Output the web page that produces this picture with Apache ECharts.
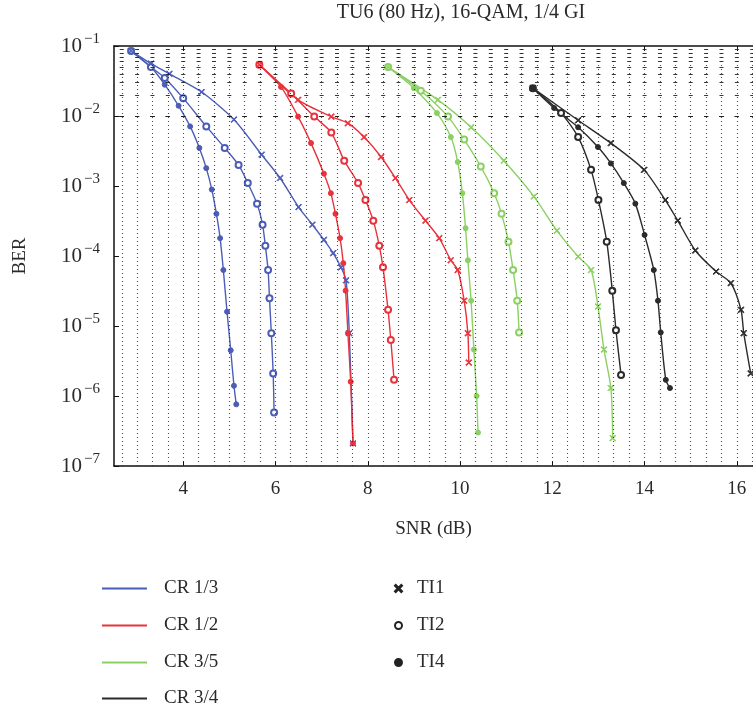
<!DOCTYPE html>
<html>
<head>
<meta charset="utf-8">
<script src="https://cdn.jsdelivr.net/npm/echarts@6/dist/echarts.min.js"></script>
<style>
  html, body { margin: 0; padding: 0; background: #fff; }
  #chart { width: 753px; height: 709px; }
</style>
</head>
<body>
<div id="chart"></div>
<script>
// SNR (dB) vs BER curves, TU6 channel, 16-QAM, 1/4 guard interval
const xTicks = [4, 6, 8, 10, 12, 14, 16];
const titleText = 'TU6 (80 Hz), 16-QAM, 1/4 GI';
const codeRates = ['CR 1/3', 'CR 1/2', 'CR 3/5', 'CR 3/4'];
const interleavers = ['TI1', 'TI2', 'TI4'];

// [SNR dB, BER]
const cr13_ti4 = [[2.87,8.5e-2],[3.3,5.0e-2],[3.6,2.8e-2],[3.9,1.4e-2],[4.15,7.1e-3],[4.35,3.5e-3],[4.5,1.8e-3],[4.62,8.9e-4],[4.72,4.0e-4],[4.8,1.8e-4],[4.87,6.3e-5],[4.95,1.6e-5],[5.03,4.5e-6],[5.1,1.4e-6],[5.15,7.6e-7]];
const cr13_ti2 = [[2.87,8.5e-2],[3.3,5.0e-2],[3.6,3.5e-2],[4.0,1.8e-2],[4.5,7.1e-3],[4.9,3.5e-3],[5.2,2.0e-3],[5.4,1.1e-3],[5.6,5.6e-4],[5.72,2.8e-4],[5.78,1.4e-4],[5.84,6.3e-5],[5.87,2.5e-5],[5.91,7.9e-6],[5.95,2.1e-6],[5.97,5.8e-7]];
const cr13_ti1 = [[2.87,8.5e-2],[3.3,5.6e-2],[3.7,4.0e-2],[4.4,2.2e-2],[5.1,8.9e-3],[5.7,2.8e-3],[6.1,1.3e-3],[6.5,5.0e-4],[6.8,2.8e-4],[7.05,1.7e-4],[7.25,1.1e-4],[7.42,6.9e-5],[7.53,4.5e-5],[7.6,7.9e-6],[7.68,2.1e-7]];

const cr12_ti4 = [[5.65,5.4e-2],[6.12,2.6e-2],[6.49,9.8e-3],[6.77,4.1e-3],[7.05,1.5e-3],[7.2,7.9e-4],[7.3,4.0e-4],[7.4,1.8e-4],[7.47,7.9e-5],[7.52,3.2e-5],[7.57,7.9e-6],[7.63,1.6e-6],[7.68,2.1e-7]];
const cr12_ti2 = [[5.65,5.4e-2],[6.34,2.1e-2],[6.84,9.8e-3],[7.21,5.8e-3],[7.49,2.3e-3],[7.79,1.1e-3],[7.95,6.3e-4],[8.12,3.2e-4],[8.25,1.4e-4],[8.33,6.9e-5],[8.44,1.7e-5],[8.5,6.3e-6],[8.57,1.7e-6]];
const cr12_ti1 = [[5.65,5.4e-2],[6.49,1.7e-2],[7.21,9.8e-3],[7.57,7.9e-3],[7.92,5.0e-3],[8.29,2.6e-3],[8.6,1.3e-3],[8.9,6.3e-4],[9.25,3.2e-4],[9.55,1.8e-4],[9.8,8.7e-5],[9.95,6.3e-5],[10.09,2.3e-5],[10.17,7.9e-6],[10.19,3.0e-6]];

const cr35_ti4 = [[8.44,5.0e-2],[9.0,2.5e-2],[9.5,1.1e-2],[9.8,5.0e-3],[9.95,2.2e-3],[10.05,7.9e-4],[10.12,2.5e-4],[10.17,8.7e-5],[10.24,2.3e-5],[10.3,4.6e-6],[10.36,1.0e-6],[10.39,3.0e-7]];
const cr35_ti2 = [[8.44,5.0e-2],[9.15,2.3e-2],[9.74,9.8e-3],[10.09,4.6e-3],[10.45,1.9e-3],[10.74,7.9e-4],[10.9,4.0e-4],[11.05,1.6e-4],[11.15,6.3e-5],[11.24,2.3e-5],[11.28,8.1e-6]];
const cr35_ti1 = [[8.44,5.0e-2],[9.52,1.7e-2],[10.24,6.9e-3],[10.95,2.3e-3],[11.6,7.1e-4],[12.1,2.3e-4],[12.56,9.8e-5],[12.84,6.3e-5],[12.99,1.9e-5],[13.12,4.6e-6],[13.27,1.3e-6],[13.31,2.5e-7]];

const cr34_ti2 = [[11.58,2.5e-2],[12.19,1.1e-2],[12.56,5.0e-3],[12.84,1.7e-3],[13.0,6.3e-4],[13.18,1.6e-4],[13.3,3.2e-5],[13.38,8.7e-6],[13.49,2.0e-6]];
const cr34_ti4 = [[11.58,2.5e-2],[12.04,1.3e-2],[12.56,6.9e-3],[12.99,3.6e-3],[13.27,2.1e-3],[13.55,1.1e-3],[13.8,5.6e-4],[14.0,2.0e-4],[14.2,6.3e-5],[14.29,2.3e-5],[14.35,8.1e-6],[14.46,1.7e-6],[14.55,1.3e-6]];
const cr34_ti1 = [[11.58,2.5e-2],[12.56,8.7e-3],[13.27,4.1e-3],[13.99,1.7e-3],[14.45,6.3e-4],[14.72,3.2e-4],[15.1,1.2e-4],[15.55,6.0e-5],[15.87,4.1e-5],[16.09,1.7e-5],[16.15,7.9e-6],[16.3,2.1e-6]];

const COLORS = { 'CR 1/3': '#4b5db6', 'CR 1/2': '#e8323c', 'CR 3/5': '#8bd062', 'CR 3/4': '#2b2b2b' };
const CROSS = 'path://M0,1L1,0L5,4L9,0L10,1L6,5L10,9L9,10L5,6L1,10L0,9L4,5Z';
const MARKERS = {
  TI1: { symbol: CROSS, size: 6 },
  TI2: { symbol: 'emptyCircle', size: 6 },
  TI4: { symbol: 'circle', size: 5 }
};

const curves = [
  ['CR 1/3', 'TI4', cr13_ti4], ['CR 1/3', 'TI2', cr13_ti2], ['CR 1/3', 'TI1', cr13_ti1],
  ['CR 1/2', 'TI4', cr12_ti4], ['CR 1/2', 'TI2', cr12_ti2], ['CR 1/2', 'TI1', cr12_ti1],
  ['CR 3/5', 'TI4', cr35_ti4], ['CR 3/5', 'TI2', cr35_ti2], ['CR 3/5', 'TI1', cr35_ti1],
  ['CR 3/4', 'TI2', cr34_ti2], ['CR 3/4', 'TI4', cr34_ti4], ['CR 3/4', 'TI1', cr34_ti1]
];

const FONT = '"Liberation Serif", "DejaVu Serif", serif';
const TEXT = '#2a2a2a';

const X_MIN = 2.5, X_MAX = 16.35;
const GRID_LEFT = 114, CHART_W = 753;
// horizontal spacing of the vertical grid (1/3 dB) in pixels, used to line up the
// short dashes of the horizontal grid with the vertical grid columns
const colStep = (CHART_W - GRID_LEFT) / (X_MAX - X_MIN) / 3;
const firstCol = (8 / 3 - X_MIN) * colStep * 3;
const dashLen = 4;
const H_DOT = { color: '#222', width: 1.2, type: [dashLen, colStep - dashLen], dashOffset: dashLen / 2 - firstCol + colStep * 4, opacity: 0.9 };
const V_DOT = { color: '#2e2e2e', width: 1.1, type: [1, 3], opacity: 0.85 };

// dotted grid: verticals every 1/3 dB, horizontals at k*10^n
const vLines = [];
for (let k = 8; k <= 49; k++) vLines.push({ xAxis: k / 3 });
const hLines = [];
for (let n = -7; n <= -2; n++) {
  for (let k = 1; k <= 9; k++) {
    if (n === -7 && k === 1) continue;
    hLines.push({ yAxis: k * Math.pow(10, n) });
  }
}

const series = [];
series.push({
  type: 'line', name: '_vgrid', data: [], silent: true, z: 1,
  markLine: {
    silent: true, animation: false, symbol: ['none', 'none'],
    label: { show: false }, lineStyle: V_DOT,
    emphasis: { disabled: true },
    data: vLines
  }
});
series.push({
  type: 'line', name: '_hgrid', data: [], silent: true, z: 1,
  markLine: {
    silent: true, animation: false, symbol: ['none', 'none'],
    label: { show: false }, lineStyle: H_DOT,
    emphasis: { disabled: true },
    data: hLines
  }
});

curves.forEach(([cr, ti, pts]) => {
  const c = COLORS[cr];
  series.push({
    type: 'line', name: cr + ' ' + ti, data: pts, z: 3,
    smooth: 0.25, animation: false,
    symbol: MARKERS[ti].symbol, symbolSize: MARKERS[ti].size,
    showAllSymbol: true,
    lineStyle: { color: c, width: 1.4 },
    itemStyle: { color: c, borderColor: c, borderWidth: 1 }
  });
});

// legend-only entries
codeRates.forEach(cr => {
  series.push({ type: 'line', name: cr, data: [], symbol: 'none', lineStyle: { color: COLORS[cr], width: 2 }, itemStyle: { color: COLORS[cr] } });
});
interleavers.forEach(ti => {
  series.push({ type: 'line', name: ti, data: [], symbol: MARKERS[ti].symbol, lineStyle: { color: '#222', width: 0 }, itemStyle: { color: '#222', borderColor: '#222', borderWidth: 1 } });
});

const legendText = { fontFamily: FONT, fontSize: 19, color: TEXT, padding: [0, 0, 0, 12] };
const rateLegend = (names, top) => ({
  data: names.map(n => ({ name: n, icon: 'rect' })),
  orient: 'vertical', left: 102, top: top, padding: 0,
  itemWidth: 45, itemHeight: 2, itemGap: 18, selectedMode: false,
  textStyle: legendText
});

const option = {
  backgroundColor: '#fff',
  animation: false,
  textStyle: { fontFamily: FONT },
  grid: { left: GRID_LEFT, top: 46, right: 0, bottom: 243, containLabel: false },
  graphic: [{
    type: 'text', x: 461, y: 13,
    style: { text: titleText, font: '20px ' + FONT, fill: TEXT, textAlign: 'center', textVerticalAlign: 'middle' }
  }],
  legend: [
    rateLegend(codeRates.slice(0, 3), 579),
    rateLegend(codeRates.slice(3), 689),
    {
      data: [
        { name: 'TI1', icon: CROSS },
        { name: 'TI2', icon: 'emptyCircle' },
        { name: 'TI4', icon: 'circle' }
      ],
      orient: 'vertical', left: 394, top: 579, padding: 0,
      itemWidth: 7, itemHeight: 7, itemGap: 18, selectedMode: false,
      textStyle: { fontFamily: FONT, fontSize: 19, color: TEXT, padding: [0, 0, 0, 10] }
    }
  ],
  xAxis: [{
    type: 'value', min: X_MIN, max: X_MAX, position: 'bottom',
    name: 'SNR (dB)', nameLocation: 'middle', nameGap: 54,
    nameTextStyle: { fontFamily: FONT, fontSize: 19, color: TEXT },
    axisLine: { show: true, onZero: false, lineStyle: { color: '#111', width: 1.5 } },
    axisTick: { show: true, inside: true, length: 5, customValues: xTicks, lineStyle: { color: '#111' } },
    axisLabel: { customValues: xTicks, margin: 14, fontFamily: FONT, fontSize: 19, color: TEXT },
    splitLine: { show: false }
  }, {
    type: 'value', min: X_MIN, max: X_MAX, position: 'top',
    axisLine: { show: true, onZero: false, lineStyle: { color: '#111', width: 1.5 } },
    axisTick: { show: true, inside: true, length: 5, customValues: xTicks, lineStyle: { color: '#111' } },
    axisLabel: { show: false },
    splitLine: { show: false }
  }],
  yAxis: {
    type: 'log', logBase: 10, min: 1e-7, max: 1e-1, splitNumber: 6,
    name: 'BER', nameLocation: 'middle', nameGap: 84, nameRotate: 90,
    nameTextStyle: { fontFamily: FONT, fontSize: 19, color: TEXT },
    axisLine: { show: true, onZero: false, lineStyle: { color: '#111', width: 1.5 } },
    axisTick: { show: true, inside: true, length: 5, lineStyle: { color: '#111' } },
    axisLabel: {
      margin: 14, color: TEXT,
      formatter: v => '{b|10}{s|\u2212' + Math.abs(Math.round(Math.log10(v))) + '}',
      rich: {
        b: { fontFamily: FONT, fontSize: 21, color: TEXT },
        s: { fontFamily: FONT, fontSize: 15, color: TEXT, padding: [0, 0, 13, 2] }
      }
    },
    splitLine: { show: false }
  },
  series: series
};

const chart = echarts.init(document.getElementById('chart'), null, { renderer: 'canvas' });
chart.setOption(option);
</script>
</body>
</html>
